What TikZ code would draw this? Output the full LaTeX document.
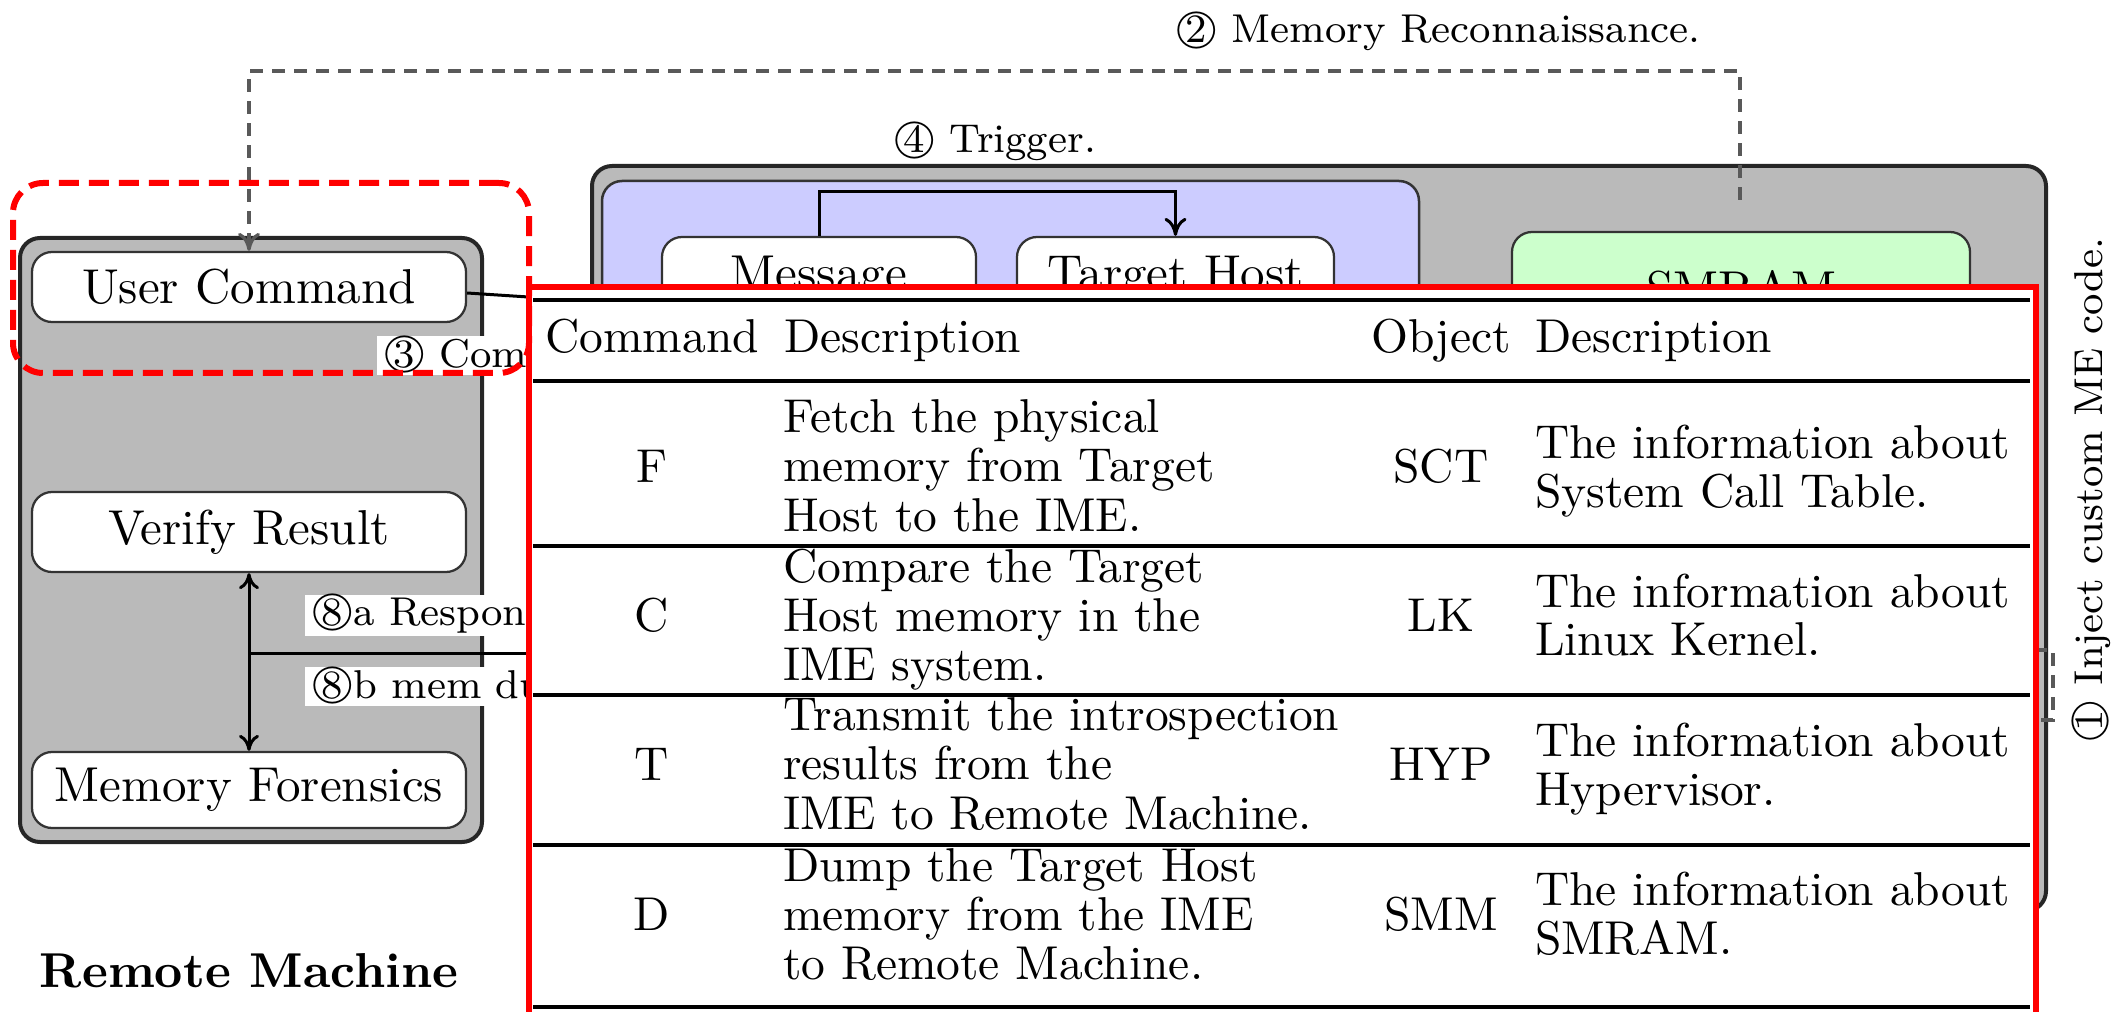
\documentclass[tikz,border=0pt]{standalone}
\usetikzlibrary{arrows.meta,fit}
% font sizes for the boxes, the step labels and the command table
\newcommand{\fnNode}{\fontsize{9.8}{11}\selectfont}
\newcommand{\fnLabel}{\fontsize{8.05}{10}\selectfont}
\newcommand{\fnTable}{\fontsize{9.5}{9.8}\selectfont}
% circled step number
\newcommand{\circnum}[1]{\ooalign{\hfil#1\hfil\crcr\raisebox{0.07em}{$\bigcirc$}}}
\tikzset{
  grp/.style={draw=black!85, line width=0.8pt, fill=black!27, rounded corners=4pt, inner sep=0pt},
  tile/.style={draw=black!80, line width=0.45pt, fill=white, rounded corners=4pt, inner sep=0pt, font=\fnNode},
  lbl/.style={font=\fnLabel, inner sep=0pt},
  wlbl/.style={lbl, fill=white, inner xsep=1.2pt, inner ysep=0.6pt},
  conn/.style={draw=black, line width=0.6pt},
  tipend/.style={arrows={-To[length=3.6pt,width=4.4pt]}},
  tipboth/.style={arrows={To[length=3.2pt,width=4pt]-To[length=3.2pt,width=4pt]}},
  recon/.style={draw=black!65, line width=0.65pt, dash pattern=on 2.6pt off 1.8pt},
  cell/.style={font=\fnTable, inner sep=0pt},
  hrule/.style={line width=0.75pt},
  trule/.style={line width=0.9pt},
}
\begin{document}
\begin{tikzpicture}[x=0.2pt,y=-0.2pt]
\useasboundingbox (0,0) rectangle (2121,1012);
\clip (0,0) rectangle (2121,1012);

% ---- remote machine ----
\node[grp, fit={(20,238) (482,842)}] (remote) {};
\node[tile, minimum width=86.8pt, minimum height=14pt] (ucmd) at (249,287) {User Command};
\node[tile, minimum width=86.8pt, minimum height=16pt] (verify) at (249,532) {Verify Result};
\node[tile, minimum width=86.8pt, minimum height=15.2pt] (forensics) at (249,790) {Memory Forensics};
\node[font=\fnNode\bfseries, anchor=base, inner sep=0pt] (rmname) at (249,987) {Remote Machine};

\draw[conn, tipboth] (verify) -- (forensics);
\coordinate (junction) at (249,653);
\coordinate (respend) at (700,653);
\draw[conn] (junction) -- (respend);

\coordinate (cmdend) at (620,303);
\draw[conn] ([yshift=-1.2pt]ucmd.east) -- (cmdend);

\node[wlbl, anchor=base west] (l8a) at (304,625) {\circnum{8}a Respons};
\node[wlbl, anchor=base west] (l8b) at (304,698) {\circnum{8}b mem du};
\node[wlbl, anchor=base west] (l3) at (376,367) {\circnum{3} Com};

% ---- introspection side ----
\node[grp, fit={(592,166) (2046,911)}] (ime) {};
\node[draw=black!80, line width=0.5pt, fill=blue!20, rounded corners=4pt, inner sep=0pt,
      fit={(602,181) (1419,880)}] (hostarea) {};
\node[tile, minimum width=62.8pt, minimum height=16.4pt] (msg) at (819,278) {Message};
\node[tile, minimum width=63.4pt, minimum height=16.4pt] (tgt) at (1175.5,278) {Target Host};
\node[tile, fill=green!20, minimum width=91.6pt, minimum height=22.6pt] (smram) at (1741,288.5) {SMRAM};

\draw[conn, tipend] (msg.north) -- ++(0,-44) -| (tgt.north);
\node[lbl, anchor=base west] (ltrig) at (892,153) {\circnum{4} Trigger.};

% memory reconnaissance path
\coordinate (reconend) at (1740,200);
\draw[recon, tipend] (reconend) -- ++(0,-129) -| (ucmd.north);
\node[lbl, anchor=base west] (lrecon) at (1174,43) {\circnum{2} Memory Reconnaissance.};

% ME code injection
\coordinate (injA) at (1990,650);
\coordinate (injB) at (1990,720);
\draw[recon] (injA) -- (2053,650) -- (2053,720) -- (injB);
\node[lbl, rotate=90] (linj) at (2093,490) {\circnum{1} Inject custom ME code.};

% ---- command table ----
\node[draw=red, line width=1.2pt, fill=white, inner sep=0pt, fit={(529,287) (2036,1040)}] (tbl) {};
\draw[trule] (533,300) -- (2030,300);
\draw[hrule] (533,381) -- (2030,381);
\draw[hrule] (533,546) -- (2030,546);
\draw[hrule] (533,695) -- (2030,695);
\draw[hrule] (533,845) -- (2030,845);
\draw[trule] (533,1007) -- (2030,1007);

\node[cell, anchor=base] (hcmd) at (652,353) {Command};
\node[cell, anchor=base west] (hdesc) at (783,353) {Description};
\node[cell, anchor=base] (hobj) at (1441,353) {Object};
\node[cell, anchor=base west] (hodesc) at (1534,353) {Description};

\node[cell, anchor=base] (cF) at (652,482) {F};
\node[cell, anchor=base west] (dF) at (782,433)
  {\begin{tabular}[t]{@{}l@{}}Fetch the physical\\memory from Target\\Host to the IME.\end{tabular}};
\node[cell, anchor=base] (oF) at (1441,482) {SCT};
\node[cell, anchor=base west] (eF) at (1534,458)
  {\begin{tabular}[t]{@{}l@{}}The information about\\System Call Table.\end{tabular}};

\node[cell, anchor=base] (cC) at (652,631) {C};
\node[cell, anchor=base west] (dC) at (782,582)
  {\begin{tabular}[t]{@{}l@{}}Compare the Target\\Host memory in the\\IME system.\end{tabular}};
\node[cell, anchor=base] (oC) at (1441,631) {LK};
\node[cell, anchor=base west] (eC) at (1534,607)
  {\begin{tabular}[t]{@{}l@{}}The information about\\Linux Kernel.\end{tabular}};

\node[cell, anchor=base] (cT) at (652,780) {T};
\node[cell, anchor=base west] (dT) at (782,731)
  {\begin{tabular}[t]{@{}l@{}}Transmit the introspection\\results from the\\IME to Remote Machine.\end{tabular}};
\node[cell, anchor=base] (oT) at (1441,780) {HYP};
\node[cell, anchor=base west] (eT) at (1534,756)
  {\begin{tabular}[t]{@{}l@{}}The information about\\Hypervisor.\end{tabular}};

\node[cell, anchor=base] (cD) at (652,930) {D};
\node[cell, anchor=base west] (dD) at (782,881)
  {\begin{tabular}[t]{@{}l@{}}Dump the Target Host\\memory from the IME\\to Remote Machine.\end{tabular}};
\node[cell, anchor=base] (oD) at (1441,930) {SMM};
\node[cell, anchor=base west] (eD) at (1534,905)
  {\begin{tabular}[t]{@{}l@{}}The information about\\SMRAM.\end{tabular}};

% highlighted command entry
\node[draw=red, line width=1.2pt, dash pattern=on 4pt off 2pt, rounded corners=6pt, inner sep=0pt,
      fit={(13,183) (529,373)}] (focus) {};
\end{tikzpicture}
\end{document}
